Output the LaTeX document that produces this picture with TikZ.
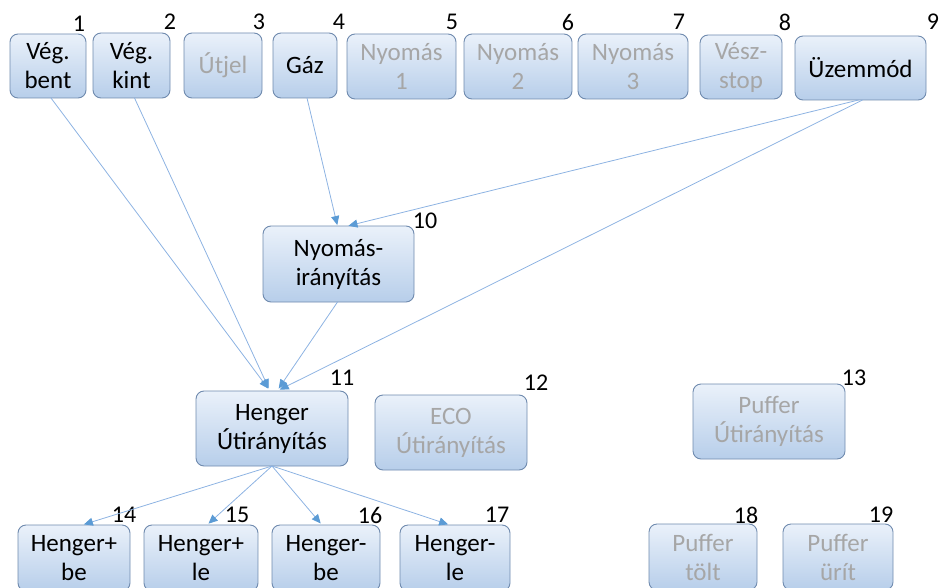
\documentclass[tikz,border=0pt]{standalone}
\usepackage{fontspec}
\setmainfont{Carlito}
\usetikzlibrary{arrows.meta}
\definecolor{boxtop}{HTML}{EAF1FA}
\definecolor{boxbot}{HTML}{B7CEEA}
\definecolor{boxborder}{HTML}{6F8AAE}
\definecolor{dimtext}{HTML}{A6A6A6}
\definecolor{linecol}{HTML}{8DB3E2}
\definecolor{tipcol}{HTML}{5B9BD5}
\tikzset{
  box/.style={draw=boxborder, line width=0.9pt, rounded corners=8pt,
    top color=boxtop, bottom color=boxbot, inner sep=0pt, outer sep=0pt,
    align=center, font=\fontsize{25}{29}\selectfont, text=black},
  dim/.style={text=dimtext},
  num/.style={font=\fontsize{24}{28}\selectfont, inner sep=0pt, text=black},
  conn/.style={draw=linecol, line width=0.8pt,
    -{Triangle[length=9pt,width=8pt,color=tipcol]}, shorten >=2pt}
}
\begin{document}
\begin{tikzpicture}[x=1pt,y=-1pt]
\useasboundingbox (0,0) rectangle (941,588);
% top row
\node[box, minimum width=76pt, minimum height=64pt] (n1) at (48,66) {Vég.\\bent};
\node[box, minimum width=77pt, minimum height=65pt] (n2) at (131.5,65.5) {Vég.\\kint};
\node[box, dim, minimum width=78pt, minimum height=65pt] (n3) at (223,65.5) {Útjel};
\node[box, minimum width=64pt, minimum height=65pt] (n4) at (305,65.5) {Gáz};
\node[box, dim, minimum width=109pt, minimum height=65pt] (n5) at (401.5,66.5) {Nyomás\\1};
\node[box, dim, minimum width=108pt, minimum height=65pt] (n6) at (518,66.5) {Nyomás\\2};
\node[box, dim, minimum width=110pt, minimum height=65pt] (n7) at (633,66.5) {Nyomás\\3};
\node[box, dim, minimum width=82pt, minimum height=64pt] (n8) at (741,67) {Vész-\\stop};
\node[box, minimum width=131pt, minimum height=64pt] (n9) at (860.5,68) {Üzemmód};
% middle
\node[box, minimum width=151pt, minimum height=76pt] (n10) at (338.5,264) {Nyomás-\\irányítás};
\node[box, minimum width=152pt, minimum height=75pt] (n11) at (272,428.5) {Henger\\Útirányítás};
\node[box, dim, minimum width=152pt, minimum height=75pt] (n12) at (451,432.5) {ECO\\Útirányítás};
\node[box, dim, minimum width=152pt, minimum height=75pt] (n13) at (769,421.5) {Puffer\\Útirányítás};
% bottom row
\node[box, minimum width=112pt, minimum height=66pt] (n14) at (74,558) {Henger+\\be};
\node[box, minimum width=114pt, minimum height=66pt] (n15) at (201,558) {Henger+\\le};
\node[box, minimum width=108pt, minimum height=66pt] (n16) at (326,558) {Henger-\\be};
\node[box, minimum width=110pt, minimum height=66pt] (n17) at (455,558) {Henger-\\le};
\node[box, dim, minimum width=108pt, minimum height=66pt] (n18) at (703,557) {Puffer\\tölt};
\node[box, dim, minimum width=110pt, minimum height=66pt] (n19) at (838,557) {Puffer\\ürít};
% numbers
\node[num] (l1) at (79,24) {1};
\node[num] (l2) at (170,22) {2};
\node[num] (l3) at (259,22) {3};
\node[num] (l4) at (339,22) {4};
\node[num] (l5) at (452,22) {5};
\node[num] (l6) at (568,22) {6};
\node[num] (l7) at (679,22) {7};
\node[num] (l8) at (785,22) {8};
\node[num] (l9) at (933,22) {9};
\node[num] (l10) at (425,221) {10};
\node[num] (l11) at (342,378) {11};
\node[num] (l12) at (536,383) {12};
\node[num] (l13) at (854,378) {13};
\node[num] (l14) at (124,515) {14};
\node[num] (l15) at (237,515) {15};
\node[num] (l16) at (370,515) {16};
\node[num] (l17) at (497,515) {17};
\node[num] (l18) at (746,515) {18};
\node[num] (l19) at (881,515) {19};
% connectors
\draw[conn, shorten >=3pt] ([xshift=3pt]n1.south) -- ([xshift=-2pt]n11.north);
\draw[conn, shorten >=3pt] ([xshift=3pt]n2.south) -- ([xshift=-2pt]n11.north);
\draw[conn, shorten >=1pt] ([xshift=2pt]n4.south) -- ([xshift=-1pt]n10.north);
\draw[conn, shorten >=1pt] ([xshift=-2pt]n9.south) -- ([xshift=9pt]n10.north);
\draw[conn, shorten >=3pt] ([xshift=2pt]n9.south) -- ([xshift=5pt]n11.north);
\draw[conn, shorten >=3pt] ([xshift=-1pt]n10.south) -- ([xshift=5pt]n11.north);
\draw[conn] (n11.south) -- ([xshift=8pt]n14.north);
\draw[conn] (n11.south) -- ([xshift=6pt]n15.north);
\draw[conn] (n11.south) -- ([xshift=-4pt]n16.north);
\draw[conn] (n11.south) -- ([xshift=-5pt]n17.north);
\end{tikzpicture}
\end{document}
